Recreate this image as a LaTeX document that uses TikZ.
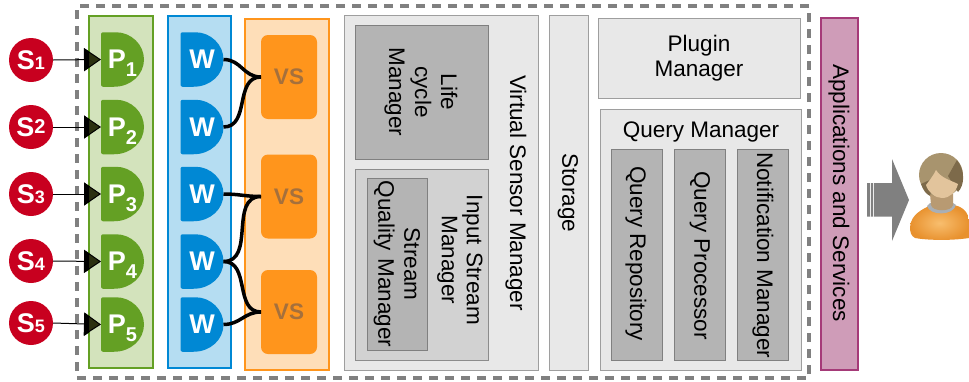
\documentclass[tikz,border=0pt]{standalone}
\usepackage{fontspec}
\setmainfont{Liberation Sans}
\usetikzlibrary{arrows.meta,shadings}
\definecolor{dashgray}{HTML}{808080}
\definecolor{pgreen}{HTML}{64A024}
\definecolor{pgreenbg}{HTML}{D3E3BC}
\definecolor{wblue}{HTML}{0088D4}
\definecolor{wbluebg}{HTML}{B5DDF2}
\definecolor{vsorange}{HTML}{FF951C}
\definecolor{vsorangebg}{HTML}{FEDEB8}
\definecolor{vstext}{HTML}{A5703C}
\definecolor{sred}{HTML}{C8001F}
\definecolor{lightbox}{HTML}{E8E8E8}
\definecolor{midbox}{HTML}{D2D2D2}
\definecolor{darkbox}{HTML}{B4B4B4}
\definecolor{appfill}{HTML}{CF9CB8}
\definecolor{appedge}{HTML}{A53A78}
\definecolor{tipolive}{HTML}{2B3010}
\definecolor{hair}{HTML}{A8946E}
\definecolor{hairdark}{HTML}{7D6A4A}
\definecolor{skin}{HTML}{E2C49C}
\definecolor{neck}{HTML}{B89A72}
\definecolor{collar}{HTML}{A9AFB5}
\definecolor{shirt}{HTML}{E8912E}
\definecolor{shirtlight}{HTML}{F8BE6E}
\newcommand{\fsz}[1]{\fontsize{#1}{#1}\selectfont}
\tikzset{
  x=1pt,y=-1pt,
  every node/.style={inner sep=0pt,outer sep=0pt,text=black,font=\fsz{22.5}},
  lightpanel/.style={fill=lightbox,draw=black!38,line width=1pt},
  midpanel/.style={fill=midbox,draw=black!45,line width=1pt},
  darkpanel/.style={fill=darkbox,draw=black!50,line width=1pt},
  rotlabel/.style={rotate=-90,align=center},
  sensor/.style={circle,fill=sred,minimum size=44pt,text=white,font=\fsz{27}\bfseries},
  dshape/.style={minimum width=43pt,minimum height=54.5pt,text=white,
    path picture={\fill[#1,rounded corners=2pt]
      (path picture bounding box.north west) -- ++(13,0) [sharp corners]
      .. controls +(17,0) and +(0,-15) .. ++(30,27.25)
      .. controls +(0,15) and +(17,0) .. ++(-30,27.25) [rounded corners=2pt]
      -- ++(-13,0) -- cycle;}},
  pnode/.style={dshape=pgreen,font=\fsz{27}\bfseries},
  wnode/.style={dshape=wblue,font=\fsz{27}\bfseries},
  vsnode/.style={fill=vsorange,rounded corners=7pt,minimum width=56pt,minimum height=84pt,
    text=vstext,font=\fsz{22.5}\bfseries},
  feed/.style={draw=black,line width=1pt,-{Triangle[length=17pt,width=23pt,fill=tipolive]}},
  link/.style={draw=black,line width=3.5pt},
}
\begin{document}
\begin{tikzpicture}
\useasboundingbox (0,0) rectangle (969,381);
% outer dashed frame
\node[draw=dashgray,line width=3.6pt,dash pattern=on 9pt off 7pt,minimum width=732pt,minimum height=372pt] (frame) at (443,192) {};
% column backgrounds
\node[fill=pgreenbg,draw=pgreen,line width=1.2pt,minimum width=64pt,minimum height=352pt] (pcol) at (121,192) {};
\node[fill=wbluebg,draw=wblue,line width=1.2pt,minimum width=63pt,minimum height=352pt] (wcol) at (199.5,192) {};
\node[fill=vsorangebg,draw=vsorange,line width=1.2pt,minimum width=84pt,minimum height=351pt] (vcol) at (287,194.5) {};
% sensors
\node[sensor] (s1) at (31,60) {S{\fsz{18}1}};
\node[sensor] (s2) at (31,127) {S{\fsz{20}\raisebox{3pt}{2}}};
\node[sensor] (s3) at (31,194) {S{\fsz{18}3}};
\node[sensor] (s4) at (31,261) {S{\fsz{18}4}};
\node[sensor] (s5) at (31,323) {S{\fsz{18}5}};
% processors
\node[pnode] (p1) at (122.5,59.5) {P\raisebox{-8pt}[0pt][0pt]{\fsz{20}1}};
\node[pnode] (p2) at (122.5,127) {P\raisebox{-8pt}[0pt][0pt]{\fsz{20}2}};
\node[pnode] (p3) at (122.5,194) {P\raisebox{-8pt}[0pt][0pt]{\fsz{20}3}};
\node[pnode] (p4) at (122.5,261.5) {P\raisebox{-8pt}[0pt][0pt]{\fsz{20}4}};
\node[pnode] (p5) at (122.5,324.5) {P\raisebox{-8pt}[0pt][0pt]{\fsz{20}5}};
% wrappers
\node[wnode] (w1) at (202,59.5) {W\hspace{6pt}};
\node[wnode] (w2) at (202,127) {W\hspace{6pt}};
\node[wnode] (w3) at (202,194) {W\hspace{6pt}};
\node[wnode] (w4) at (202,261.5) {W\hspace{6pt}};
\node[wnode] (w5) at (202,324.5) {W\hspace{6pt}};
% virtual sensors
\node[vsnode] (v1) at (289,77) {VS};
\node[vsnode] (v2) at (289,196.5) {VS};
\node[vsnode] (v3) at (289,312) {VS};
% sensor -> processor
\foreach \i in {1,...,5}{
  \draw[feed] (s\i.east) -- (p\i.west);
  \fill[black] (p\i.west) ++(-17,-11.5) -- ++(5,3.4) -- ++(0,16.2) -- ++(-5,3.4) -- cycle;
}
% wrapper -> virtual sensor
\draw[link] (w1.east) to[out=0,in=180,looseness=1.1] (v1.west);
\draw[link] (w2.east) to[out=0,in=180,looseness=1.1] (v1.west);
\draw[link] (w3.east) to[out=0,in=180,looseness=1.1] (v2.west);
\draw[link] (w4.east) to[out=0,in=180,looseness=1.1] (v2.west);
\draw[link] (w4.east) to[out=0,in=180,looseness=1.1] (v3.west);
\draw[link] (w5.east) to[out=0,in=180,looseness=1.1] (v3.west);
% virtual sensor manager
\node[lightpanel,minimum width=194pt,minimum height=355pt] (vsm) at (441,192.5) {};
\node[darkpanel,minimum width=133pt,minimum height=134pt] (life) at (421.5,92) {};
\node[midpanel,minimum width=133pt,minimum height=191pt] (ism) at (421.5,264.5) {};
\node[darkpanel,minimum width=60pt,minimum height=172pt] (sqm) at (397,264) {};
\node[rotlabel] (vsmt) at (516,193) {Virtual Sensor Manager};
\node[rotlabel,text width=134pt,execute at begin node={\baselineskip=26pt}] (lifet) at (421,92) {Life\\cycle\\Manager};
\node[rotlabel,text width=190pt,execute at begin node={\baselineskip=25pt}] (ismt) at (460,260) {Input Stream\\Manager};
\node[rotlabel,text width=170pt,execute at begin node={\baselineskip=26pt}] (sqmt) at (397,264) {Stream\\Quality Manager};
% storage
\node[lightpanel,minimum width=39pt,minimum height=355pt] (store) at (568.5,192.5) {};
\node[rotlabel] (storet) at (568,193) {Storage};
% plugin manager
\node[lightpanel,minimum width=202pt,minimum height=80pt,align=center,execute at begin node={\baselineskip=25pt}] (plugin) at (699,58) {Plugin\\Manager};
% query manager
\node[lightpanel,minimum width=201pt,minimum height=261pt] (qm) at (700.5,239.5) {};
\node (qmt) at (701,132) {Query Manager};
\node[darkpanel,minimum width=51pt,minimum height=211pt] (qr) at (636.5,254.5) {};
\node[darkpanel,minimum width=51pt,minimum height=211pt] (qp) at (699.5,254.5) {};
\node[darkpanel,minimum width=51pt,minimum height=211pt] (nm) at (762.5,254.5) {};
\node[rotlabel,anchor=west] (qrt) at (636,166) {Query Repository};
\node[rotlabel,anchor=west] (qpt) at (700,171) {Query Processor};
\node[rotlabel,anchor=west] (nmt) at (763,152) {Notification Manager};
% applications
\node[fill=appfill,draw=appedge,line width=1.4pt,minimum width=37pt,minimum height=352pt] (app) at (839.5,194) {};
\node[rotlabel] (appt) at (839,193) {Applications and Services};
% grey arrow
\fill[dashgray] (867,183) -- (892,183) -- (892,159) -- (909,200) -- (892,241) -- (892,216.5) -- (867,216.5) -- cycle;
\draw[white!85!dashgray,line width=.6pt] (870,183) -- (870,216.5) (873,183) -- (873,216.5);
% person
\shade[inner color=shirtlight,outer color=shirt]
  (910,227) .. controls (911,214) and (923,209) .. (931,205) -- (953,205)
  .. controls (962,206) and (969,212) .. (969,222) -- (969,238)
  .. controls (950,241) and (925,240) .. (915,238) .. controls (911,236) and (910,232) .. (910,227) -- cycle;
\fill[collar] (927,206) .. controls (930,216) and (953,216) .. (956,205) -- (953,203) -- (930,203) -- cycle;
\fill[neck] (930,194) -- (953,194) -- (953,205) .. controls (952,212) and (932,212) .. (931,205) -- cycle;
\fill[hair] (941,175) circle[radius=22];
\fill[hairdark] (957,160) .. controls (966,172) and (964,186) .. (958,192) -- (948,176) -- cycle;
\fill[hairdark] (921,184) .. controls (923,190) and (926,194) .. (930,196) -- (934,178) -- cycle;
\fill[skin] (936,170) .. controls (932,178) and (928,182) .. (926,185)
  .. controls (928,192) and (935,198) .. (942,198) .. controls (950,198) and (956,192) .. (958,184)
  .. controls (950,180) and (941,178) .. (936,170) -- cycle;
\end{tikzpicture}
\end{document}
